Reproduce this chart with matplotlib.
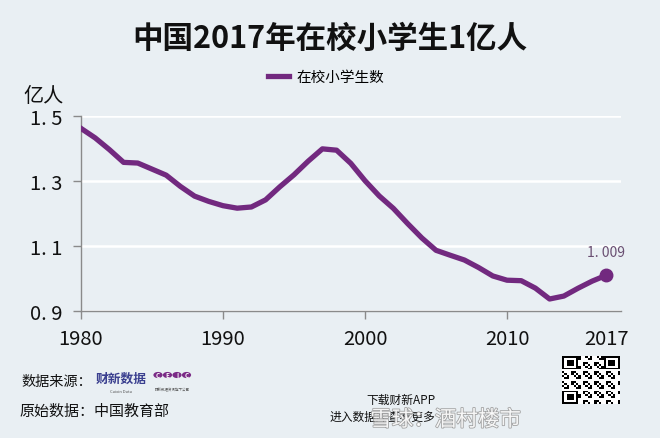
import numpy as np
import matplotlib
matplotlib.use("Agg")
import matplotlib.pyplot as plt
import matplotlib.patheffects as pe
from matplotlib.patches import Circle

plt.rcParams['font.family'] = ['Noto Sans CJK SC', 'DejaVu Sans']

# 在校小学生数（亿人）
years = list(range(1980, 2018))
students = [1.4627, 1.4333, 1.3972, 1.3578, 1.3557, 1.3370, 1.3183, 1.2836,
            1.2536, 1.2373, 1.2241, 1.2164, 1.2201, 1.2421, 1.2823, 1.3195,
            1.3615, 1.3995, 1.3954, 1.3548, 1.3013, 1.2543, 1.2157, 1.1690,
            1.1246, 1.0864, 1.0712, 1.0564, 1.0332, 1.0072, 0.9941, 0.9926,
            0.9696, 0.9361, 0.9451, 0.9692, 0.9913, 1.0094]
xticks = [1980, 1990, 2000, 2010, 2017]
yticks = [0.9, 1.1, 1.3, 1.5]
ytick_labels = ['0. 9', '1. 1', '1. 3', '1. 5']

bg = '#E9EFF3'
purple = '#72297F'

fig = plt.figure(figsize=(6.6, 4.39), dpi=100, facecolor=bg)
ax = fig.add_axes([0.1227, 0.29, 0.8176, 0.4428], facecolor=bg)

ax.plot(years, students, color=purple, lw=3.8, solid_joinstyle='round',
        label='在校小学生数', zorder=3)
ax.plot(years[-1], students[-1], 'o', color=purple, ms=9, zorder=4)
ax.annotate(f"{students[-1]:.3f}".replace('.', '. '), (years[-1], students[-1]),
            xytext=(0, 12), textcoords='offset points', ha='center', va='bottom',
            fontsize=10, color='#6a4f72')

ax.set_xlim(1980, 2018)
ax.set_ylim(0.9, 1.5)
ax.set_xticks(xticks)
ax.set_yticks(yticks)
ax.set_yticklabels(ytick_labels)
ax.grid(axis='y', color='white', lw=1.8, zorder=1)
ax.set_axisbelow(True)

for s in ['top', 'right']:
    ax.spines[s].set_visible(False)
for s in ['left', 'bottom']:
    ax.spines[s].set_color('#8a8a8a')
    ax.spines[s].set_linewidth(1.0)
ax.tick_params(axis='both', colors='#8a8a8a', labelcolor='#111111',
               labelsize=14.5, length=5.5, width=1.0)
ax.tick_params(axis='y', pad=8)
ax.tick_params(axis='x', pad=7)
ax.xaxis.get_major_ticks()[-1].tick1line.set_visible(False)

# 标题、图例、单位
fig.text(0.5, 1 - 39 / 439, '中国2017年在校小学生1亿人', ha='center', va='center',
         fontsize=22, fontweight='bold', color='#111111')
fig.legend(loc='center', bbox_to_anchor=(0.494, 1 - 78 / 439), frameon=False,
           fontsize=10.5, handlelength=1.45, handletextpad=0.55)
fig.text(0.035, 1 - 96 / 439, '亿人', ha='left', va='center', fontsize=14.5,
         color='#111111')

# 数据来源
fig.text(0.033, 1 - 382 / 439, '数据来源：', ha='left', va='center', fontsize=10.2,
         color='#111111')
fig.text(0.145, 1 - 379 / 439, '财新数据', ha='left', va='center', fontsize=9.2,
         fontweight='bold', color='#3a3f8f')
fig.text(0.183, 1 - 392 / 439, 'Caixin Data', ha='center', va='center', fontsize=3,
         color='#555555')
for i, ch in enumerate('CEIC'):
    cx = (158 + i * 9.5) / 660
    cy = 1 - 376 / 439
    fig.patches.append(Circle((cx, cy), 4.6 / 660, transform=fig.transFigure,
                              facecolor='#7a2a86', edgecolor='none'))
    fig.text(cx, cy, ch, ha='center', va='center', fontsize=4.5, color='white',
             fontweight='bold')
fig.text(0.261, 1 - 390 / 439, '财新数据资讯旗下公司', ha='center', va='center',
         fontsize=2.5, color='#555555')
fig.text(0.03, 1 - 412 / 439, '原始数据：中国教育部', ha='left', va='center',
         fontsize=10.8, color='#111111')

# 下载财新APP
fig.text(0.66, 1 - 400 / 439, '下载财新APP', ha='right', va='center', fontsize=8.5,
         color='#111111')
fig.text(0.66, 1 - 417 / 439, '进入数据库查看更多', ha='right', va='center',
         fontsize=8.5, color='#111111')

# 二维码（装饰）
n = 25
i, j = np.mgrid[0:n, 0:n]
qr = (((i * 7 + j * 3 + i * j) % 5) < 2).astype(float)
for (r, c) in [(0, 0), (0, n - 7), (n - 7, 0)]:
    qr[r:r + 7, c:c + 7] = 1
    qr[r + 1:r + 6, c + 1:c + 6] = 0
    qr[r + 2:r + 5, c + 2:c + 5] = 1
qax = fig.add_axes([562 / 660, 1 - 405 / 439, 58 / 660, 48 / 439])
qax.imshow(qr, cmap='Greys', aspect='auto', interpolation='nearest')
qax.axis('off')

# 水印
fig.text(0.675, 1 - 421 / 439, '雪球：酒村楼市', ha='center', va='center',
         fontsize=15.5, color='white', alpha=0.9,
         path_effects=[pe.withStroke(linewidth=1.2, foreground='#9a9a9a')])

fig.savefig('out.png', dpi=100, facecolor=bg)
